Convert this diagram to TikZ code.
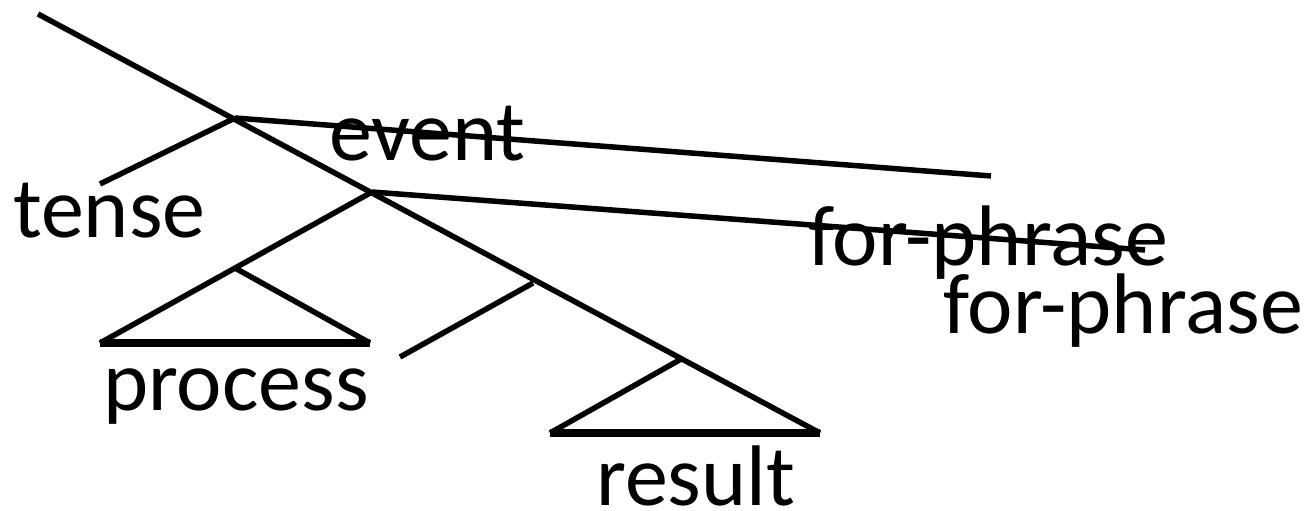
\documentclass[tikz,border=0pt]{standalone}
\usepackage{fontspec}
\setmainfont{Carlito}
\begin{document}
\begin{tikzpicture}[x=1pt,y=-1pt,
  edge/.style={line width=5.5pt},
  base/.style={line width=8pt},
  lbl/.style={anchor=base west, inner sep=0pt, font=\fontsize{86}{100}\selectfont}]
\useasboundingbox (0,0) rectangle (1306,511);
% coordinates
\coordinate (top) at (38,14);
\coordinate (j1) at (235,118);
\coordinate (j2) at (372,192);
\coordinate (j3) at (533,283);
\coordinate (ra) at (683,358);
\coordinate (rr) at (820,433);
\coordinate (rl) at (550,433);
\coordinate (pa) at (235,268);
\coordinate (pl) at (100,343);
\coordinate (pr) at (370,343);
\coordinate (te) at (100,184);
\coordinate (ee) at (991,176);
\coordinate (fe) at (1145,250);
\coordinate (me) at (400,357);
% labels
\node[lbl] (tense) at (13,237) {tense};
\node[lbl] (event) at (329,160) {event};
\node[lbl] (process) at (103,410) {process};
\node[lbl] (result) at (596,505) {result};
\node[lbl] (fp1) at (808,265) {for-phrase};
\node[lbl] (fp2) at (943,333) {for-phrase};
% lines
\draw[edge] (top) -- (rr);
\draw[edge] (j1) -- (te);
\draw[edge] (j1) -- (ee);
\draw[edge] (j2) -- (fe);
\draw[edge] (j2) -- (pl);
\draw[edge] (pa) -- (pr);
\draw[base] (pl) -- (pr);
\draw[edge] (me) -- (j3);
\draw[edge] (ra) -- (rl);
\draw[base] (rl) -- (rr);
\end{tikzpicture}
\end{document}
